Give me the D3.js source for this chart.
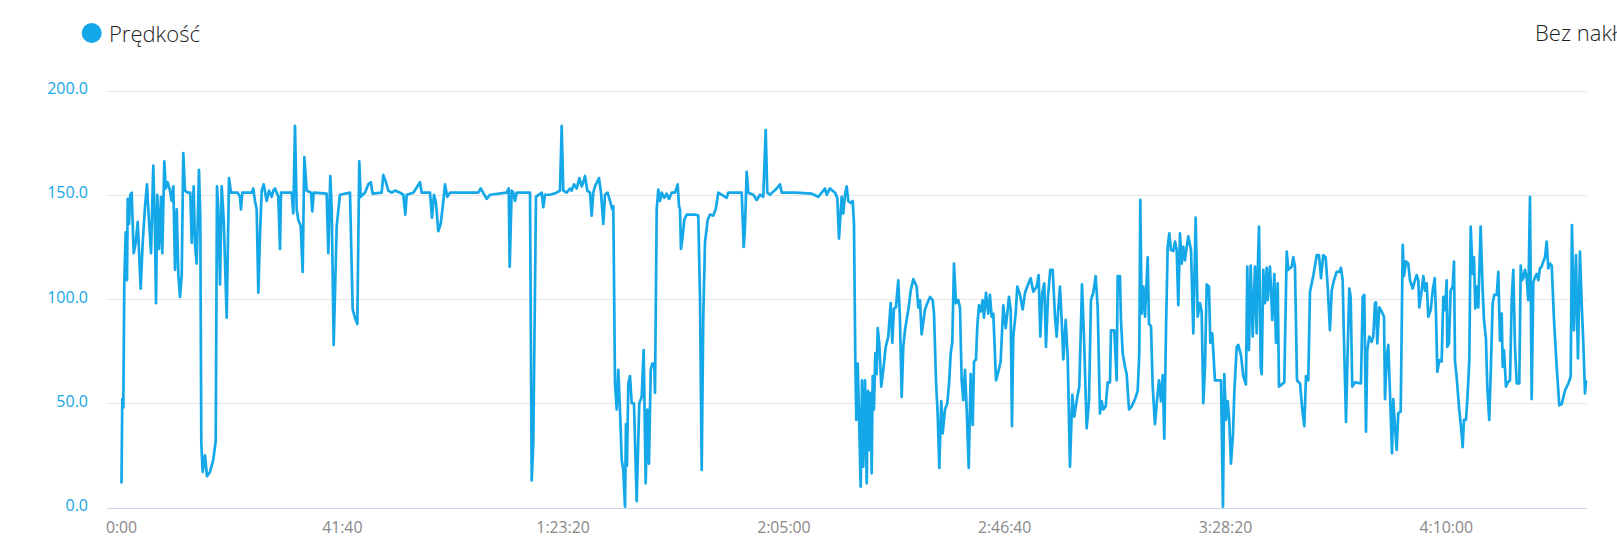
<!DOCTYPE html>
<html>
<head>
<meta charset="utf-8">
<script src="https://cdn.jsdelivr.net/npm/d3@7"></script>
<style>
  html, body { margin: 0; padding: 0; background: #fff; overflow: hidden; }
  svg { display: block; font-family: "Open Sans", "Noto Sans", sans-serif; }
</style>
</head>
<body>
<svg id="chart" width="1617" height="550"></svg>
<script>
// ---- data (elapsed time in minutes, speed in km/h) ----
const minutes = [
0,0.15,0.34,0.53,0.79,1.04,1.17,1.42,1.66,1.92,2.30,2.68,3.06,3.62,4.00,4.43,4.81,5.06,5.57,6.00,
6.32,6.51,6.76,7.08,7.45,7.70,8.08,8.34,8.72,9.15,9.47,9.78,10.10,10.42,10.72,11.04,11.36,11.66,11.98,12.49,
12.98,13.25,13.62,13.87,14.19,14.62,14.87,15.06,15.32,15.76,16.13,16.70,17.32,17.78,18.02,18.27,18.59,18.91,19.29,19.85,
20.29,20.66,21.93,22.36,22.55,22.80,24.57,24.87,25.19,25.51,25.82,26.14,26.46,26.83,27.40,27.83,28.34,28.65,28.97,29.59,
29.91,30.10,32.12,32.42,32.74,33.06,33.36,33.82,34.19,34.50,34.95,35.76,36.01,36.27,38.72,39.03,39.40,39.67,40.04,40.61,
41.23,43.12,43.63,44.06,44.50,44.87,45.14,45.95,46.57,47.03,47.40,49.10,49.40,49.91,50.35,50.99,51.61,52.56,53.18,53.56,
53.82,55.07,56.33,56.65,58.22,58.59,58.97,59.35,59.78,60.24,60.61,61.05,61.48,61.99,67.33,67.78,68.92,69.54,72.69,73.07,
73.26,73.63,73.94,74.26,74.58,77.09,77.41,77.71,78.22,79.30,79.60,79.92,80.86,82.13,82.75,83.07,83.37,84.01,84.64,84.96,
85.39,85.90,86.39,86.84,87.15,87.47,87.90,88.41,88.73,89.03,89.35,89.54,90.11,90.49,90.92,91.24,91.75,92.18,92.62,92.81,
93.13,93.45,93.75,94.07,94.39,94.69,95.02,95.20,95.39,95.64,95.96,96.28,96.71,97.22,97.71,98.17,98.54,98.92,99.22,99.54,
99.87,100.17,100.54,100.68,101.00,101.30,101.62,101.94,102.43,102.88,103.32,103.83,104.45,104.96,105.21,105.39,105.58,105.90,106.21,106.66,
108.22,108.85,109.17,109.49,109.79,110.11,110.62,111.06,111.68,112.13,112.62,114.21,114.51,117.04,117.42,117.66,117.98,118.28,119.23,119.87,
120.49,121.11,121.57,121.87,122.38,123.00,123.64,124.27,124.59,127.09,130.25,131.49,132.14,132.76,133.08,133.70,134.64,135.08,135.40,135.90,
136.21,136.53,136.85,137.16,137.61,137.99,138.23,138.48,138.67,138.93,139.17,139.49,139.74,139.98,140.31,140.63,140.87,141.12,141.38,141.57,
141.76,142.00,142.25,142.51,142.70,143.00,143.38,143.76,144.21,144.70,145.15,145.46,145.78,146.15,146.59,146.91,147.23,147.53,147.85,148.17,
148.55,148.93,149.42,150.06,150.36,150.68,151.00,151.63,152.06,152.57,153.08,153.33,153.70,154.02,154.33,154.70,154.97,155.40,155.84,156.21,
156.48,156.78,157.10,157.48,157.91,158.23,158.55,158.86,159.18,159.50,159.88,160.25,160.63,160.88,161.25,161.50,161.82,162.14,162.52,162.76,
163.14,163.57,163.89,164.21,164.52,165.03,165.46,165.91,166.40,166.86,167.16,167.48,167.80,168.04,168.29,168.74,169.05,169.56,170.07,170.50,
170.93,171.57,172.07,172.71,173.08,173.39,173.76,174.14,174.46,174.84,175.27,175.73,176.16,176.48,176.78,177.10,177.42,177.73,178.18,178.56,
178.99,179.43,179.80,180.37,180.75,181.26,181.63,182.14,182.58,182.95,183.39,183.84,184.22,184.65,184.97,185.28,185.73,186.11,186.54,186.73,
187.35,187.80,187.99,188.42,188.61,188.94,189.37,189.69,190.13,190.63,191.26,191.77,192.07,192.26,192.52,192.83,193.15,193.66,193.90,194.28,
194.60,195.03,195.41,195.79,196.16,196.49,196.79,197.11,197.43,197.73,198.05,198.49,198.81,199.13,199.43,199.75,200.07,200.37,200.69,201.01,
201.32,201.83,202.26,202.71,203.09,203.52,203.84,204.15,204.47,204.79,205.22,205.47,205.84,206.35,207.49,207.86,208.11,208.43,208.75,209.05,
209.37,209.75,210.00,210.45,210.75,211.26,211.70,212.20,212.45,212.77,213.09,213.47,213.90,214.22,214.41,214.66,214.98,215.17,215.47,215.79,
216.11,216.30,216.73,217.17,217.55,217.87,218.19,218.43,219.43,219.89,220.19,220.83,221.13,221.45,221.83,222.40,222.83,223.21,223.53,223.96,
224.28,224.90,225.55,225.98,226.36,226.79,227.24,227.62,228.05,228.38,228.81,229.32,229.81,230.13,230.45,230.70,231.08,231.32,231.70,231.96,
232.26,232.77,233.90,234.23,234.53,234.85,235.09,235.47,235.92,236.22,236.55,236.73,236.98,237.36,237.81,238.25,238.44,238.76,239.06,239.38,
239.76,240.00,240.32,240.64,240.94,241.40,241.78,242.02,242.40,242.83,243.15,243.66,244.10,244.42,244.72,244.91,245.36,245.67,245.99,246.31,
246.61,247.06,247.44,247.82,248.06,248.31,248.69,249.13,249.44,249.76,250.08,250.19,250.51,250.83,251.21,251.46,251.65,251.96,252.45,252.78,
253.10,253.34,253.72,253.97,254.35,254.61,254.99,255.23,255.48,255.74,256.04,256.49,256.87,257.12,257.49,257.74,258.11,258.44,258.76,259.06,
259.52,259.82,260.14,260.46,260.65,260.89,261.27,261.59,262.03,262.35,262.65,262.97,263.29,263.78,264.05,264.29,264.54,264.86,265.18,265.48,
265.80,266.12,266.43,266.74,267.06,267.37,267.68,268.00,268.31,268.63,268.95,269.25,269.57,269.90,270.33,270.84,271.33,271.78,272.40,273.03,
273.48,273.72,274.10,274.48,274.85,275.23,275.55,275.85,276.18,276.37
];
const speed = [
12,52,48,108,132,109,148,136,150,151,122,127,137,105,127,144,155,143,122,164,
133,98,150,124,149,122,166,153,156,152,147,154,114,143,112,101,111,170,152,151,
151,127,154,126,117,162,139,31,17,25,15,17,23,32,154,143,107,154,138,91,
158,151,151,149,143,151,151,153,147,143,103,131,152,155,147,152,149,152,153,149,
124,151,151,141,183,143,138,135,113,168,152,151,142,151,150.5,122,159,143,78,135,
150,151,95,91,88,166,149,151,155,156,150.5,151,159.5,156,152,151,152,151,150,140.5,
150,151,156,151,151,139,150,146,132.5,136,144,155,149,151,151,153,148,150,151,153,
115.5,152,151,147,151,151,13,31,149,151,144,150,150,151,152,183,152,151,153,152,
155,153,158,154,156,159,152,151,140,151,154,155,158,151,136,150,151,147,143,144.5,
59.5,47,66,47,23,18,0.4,40,20,59.5,63,50,50,3,50,53,75.5,11.6,47,21,
66,69,69,55,143,152.5,147,151,148.5,150.5,148,151,151,155,144.5,143,124,130,138,140.5,
140.5,140,101,18,91.5,127,138,140.5,140,143,151,148.5,151,151,125,134.5,161,151,150,147.5,
150,149,181,151,150,151.5,153,155,151,151,150.5,149,151,153,150,153,151,148.5,129,149,
141,150,154,147,146,147,136,70.7,42,69,45,10,61,19.6,61,11.6,56,27.6,55,16.4,
63,47,74,64,86,79,58,66,77,82,98,79,95.5,96,109,90,53,77,85,90,
96,104,109.5,106,96,99.5,83,95,98,101,99.5,93,61,45,19,51,35.6,47,50,61,
74,79,117,98,99.5,96,61,51.5,66,47,19,64,39.6,70,71,87,97,94,99.5,91,
103,93,102,91.5,93,61,65,70,97,86,93,101,95,39,82,93,106,102,95,103,
106,110,103.5,106,111.5,82,103,107.5,77,101,114,114,91.5,82,95,106,90,71,90,72,
19.6,54,43.6,53,58,107,82,38,51,99.5,103,111,96,45,51,47,48.5,60,60,85,
85,61,111,111,90,74,67.5,64,47,48.5,52,56,74,147.5,93,106,91.5,120,88,87,
58,40,51.5,61,51,63.5,33,85,125,131.5,123.5,123,127.5,123.5,97,131.5,117,125,118.5,125,
130,123.5,83.5,139,91.5,98,94,50,67.5,107,106,79,83.5,61,61,0.4,64,42,51,42,
21,35,55,77,78,73,63,59,115.5,75.5,116,82,115.5,83.5,112,134.7,67.5,64,114,98,
115,99.5,115.5,90,112,79,107.5,58,60,122.7,114,115.5,120,115.5,61,59.5,47,39,63,61,
103.5,111,121,121,110,121,120,106,85,104,109,113,113,115,109,80,41,67.5,105,101,
58,60,59.5,101,102,36.4,75,82,79.5,82,98,98.5,78.7,96,94,91.5,52,72,78,55,
26,52,38.8,27.6,45.2,46,126,111,118,117,109,105,109,111.5,109,96,104,111,104,107.5,
91.5,94.7,104,110,93,65,70.7,70,101,94.7,109,77,78.7,104,106,117.9,70,62.7,46.8,38.8,
29,42,42,51.5,70.7,134.7,112,120,95.5,106,96,134.7,104,90,81,58,42,69,98,102,
102,113,80,93,67.5,75.5,58,60,61,99.5,114,77,59.5,59.5,116,109,110,114,110,99.5,
149,52,108,110.5,112,109,114.7,115.5,117.9,120,127.5,114.7,117,116,90,67.5,49,49.6,56,59.5,
62.7,135.5,85,121,71.5,122.7,98,80,54.7,60.4
];
const seriesName = "Prędkość";
const sideLabel = "Bez nakładania";
const yTicks = [0, 50, 100, 150, 200];
const xTickSeconds = [0, 2500, 5000, 7500, 10000, 12500, 15000];
const xTickLabels = ["0:00", "41:40", "1:23:20", "2:05:00", "2:46:40", "3:28:20", "4:10:00"];

// ---- drawing ----
const data = minutes.map((m, i) => ({ t: m, v: speed[i] }));
const svg = d3.select("#chart");
const blue = "#15a8e9";

const plot = { left: 107, right: 1587, top: 90.5, bottom: 507.5 };
const x = d3.scaleLinear().domain([0, d3.max(minutes)]).range([121.5, 1586]);
const y = d3.scaleLinear().domain([0, 200]).range([plot.bottom, plot.top]);

// grid lines
svg.append("g").selectAll("line").data(yTicks.filter(d => d > 0)).join("line")
  .attr("x1", plot.left).attr("x2", plot.right)
  .attr("y1", d => Math.round(y(d)) + 0.5).attr("y2", d => Math.round(y(d)) + 0.5)
  .attr("stroke", "#e6e6e6").attr("stroke-width", 1);

// bottom axis line
svg.append("line")
  .attr("x1", plot.left).attr("x2", plot.right)
  .attr("y1", Math.round(y(0)) + 0.5).attr("y2", Math.round(y(0)) + 0.5)
  .attr("stroke", "#ccd6eb").attr("stroke-width", 1);

// y labels
svg.append("g").selectAll("text").data(yTicks).join("text")
  .attr("x", 88).attr("y", d => y(d) + 3.5)
  .attr("text-anchor", "end")
  .attr("fill", blue).attr("font-size", 16)
  .text(d => d.toFixed(1));

// x labels
svg.append("g").selectAll("text").data(xTickSeconds).join("text")
  .attr("x", d => x(d / 60)).attr("y", 532.5)
  .attr("text-anchor", "middle")
  .attr("fill", "#888").attr("font-size", 15.8)
  .text((d, i) => xTickLabels[i]);

// line
svg.append("path").datum(data)
  .attr("fill", "none").attr("stroke", blue).attr("stroke-width", 2.7)
  .attr("stroke-linejoin", "round").attr("stroke-linecap", "round")
  .attr("d", d3.line().x(d => x(d.t)).y(d => y(d.v)));

// legend
svg.append("circle").attr("cx", 91.7).attr("cy", 33).attr("r", 10).attr("fill", blue);
svg.append("text").attr("x", 109).attr("y", 41.5)
  .attr("font-size", 22).attr("font-weight", 300).attr("fill", "#222")
  .text(seriesName);
svg.append("text").attr("x", 1535).attr("y", 41)
  .attr("font-size", 22).attr("font-weight", 300).attr("fill", "#222")
  .text(sideLabel);
</script>
</body>
</html>
